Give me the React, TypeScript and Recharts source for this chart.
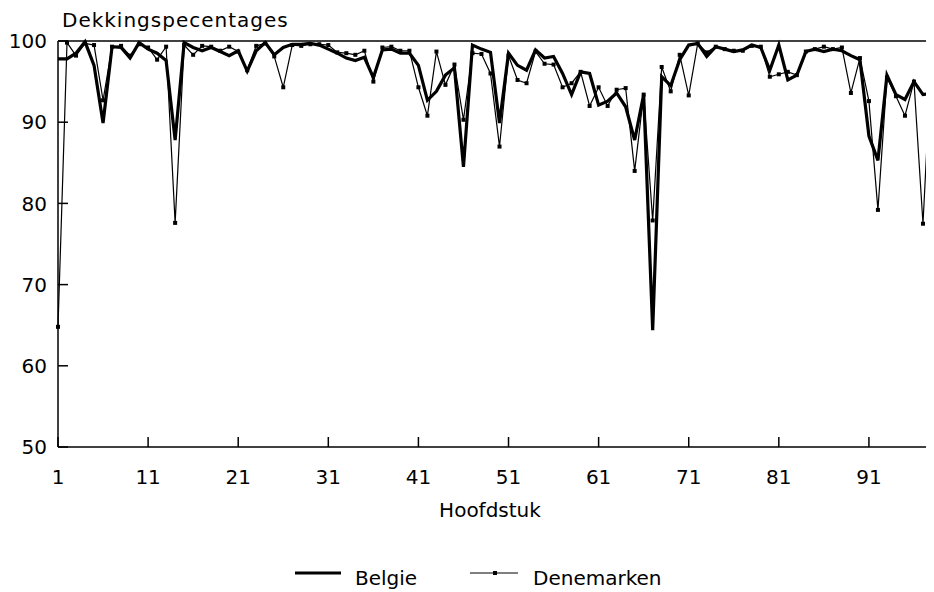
import React from 'react';
import { LineChart, Line, XAxis, YAxis, ReferenceLine, Legend } from 'recharts';

const chapters = [
  1, 2, 3, 4, 5, 6, 7, 8, 9, 10, 11, 12, 13, 14, 15, 16, 17, 18, 19, 20,
  21, 22, 23, 24, 25, 26, 27, 28, 29, 30, 31, 32, 33, 34, 35, 36, 37, 38, 39, 40,
  41, 42, 43, 44, 45, 46, 47, 48, 49, 50, 51, 52, 53, 54, 55, 56, 57, 58, 59, 60,
  61, 62, 63, 64, 65, 66, 67, 68, 69, 70, 71, 72, 73, 74, 75, 76, 77, 78, 79, 80,
  81, 82, 83, 84, 85, 86, 87, 88, 89, 90, 91, 92, 93, 94, 95, 96, 97, 98,
];

const belgie = [
  97.8, 97.8, 98.5, 99.9, 97.0, 89.9, 99.3, 99.2, 97.9, 99.8,
  99.0, 98.5, 97.6, 87.8, 99.8, 99.2, 98.8, 99.2, 98.7, 98.2,
  98.8, 96.3, 98.8, 99.8, 98.3, 99.2, 99.6, 99.6, 99.7, 99.5,
  99.0, 98.5, 97.9, 97.6, 98.0, 95.5, 98.9, 99.0, 98.5, 98.5,
  97.0, 92.7, 93.8, 95.8, 96.7, 84.5, 99.5, 99.0, 98.6, 89.9,
  98.5, 97.0, 96.4, 98.9, 97.9, 98.1, 96.0, 93.4, 96.2, 96.0,
  92.1, 92.6, 93.6, 91.9, 87.8, 93.4, 64.4, 95.6, 94.5, 97.7,
  99.5, 99.7, 98.1, 99.3, 99.0, 98.7, 98.9, 99.5, 99.2, 96.4,
  99.5, 95.2, 95.8, 98.7, 99.0, 98.7, 99.0, 98.8, 98.2, 97.7,
  88.3, 85.3, 95.8, 93.4, 92.8, 95.0, 93.4, 93.6,
];

const denemarken = [
  64.8, 99.8, 98.2, 99.7, 99.5, 92.7, 99.3, 99.4, 98.2, 99.6,
  99.2, 97.7, 99.3, 77.6, 99.5, 98.3, 99.4, 99.3, 98.8, 99.3,
  98.7, 96.4, 99.4, 99.7, 98.1, 94.3, 99.5, 99.4, 99.6, 99.6,
  99.5, 98.6, 98.5, 98.3, 98.8, 95.0, 99.2, 99.3, 98.8, 98.8,
  94.3, 90.8, 98.7, 94.6, 97.1, 90.3, 98.5, 98.4, 96.0, 87.0,
  98.2, 95.2, 94.8, 98.7, 97.2, 97.1, 94.3, 94.8, 96.2, 92.0,
  94.3, 92.0, 94.0, 94.2, 84.0, 93.4, 77.9, 96.8, 93.8, 98.3,
  93.3, 99.7, 98.6, 99.3, 99.0, 98.8, 98.8, 99.4, 99.3, 95.6,
  95.9, 96.2, 95.8, 98.7, 99.0, 99.3, 99.0, 99.2, 93.6, 97.9,
  92.6, 79.2, 95.5, 93.2, 90.8, 95.0, 77.5, 99.5,
];

const xTicks = [1, 11, 21, 31, 41, 51, 61, 71, 81, 91];
const yTicks = [50, 60, 70, 80, 90, 100];

const seriesNames = { belgie: 'Belgie', denemarken: 'Denemarken' };
const yTitle = 'Dekkingspecentages';
const xTitle = 'Hoofdstuk';

const data = chapters.map((c, i) => ({
  hoofdstuk: c,
  belgie: belgie[i],
  denemarken: denemarken[i],
}));

const FONT = '"DejaVu Sans", sans-serif';
const W = 934;
const H = 584;

const SquareDot = (props: any) => {
  const { cx, cy, index } = props;
  if (cx == null || cy == null) return <g key={`d-${index}`} />;
  return <rect key={`d-${index}`} x={cx - 2} y={cy - 2} width={4} height={4} fill="#000" />;
};

const renderLegend = () => (
  <svg width={W} height={32} style={{ display: 'block' }}>
    <line x1={295} x2={341} y1={13} y2={13} stroke="#000" strokeWidth={2.8} />
    <text x={355} y={25} fontFamily={FONT} fontSize={20} fill="#000">
      {seriesNames.belgie}
    </text>
    <line x1={470} x2={518} y1={13} y2={13} stroke="#000" strokeWidth={1.2} />
    <rect x={493} y={11} width={4} height={4} fill="#000" />
    <text x={533} y={25} fontFamily={FONT} fontSize={20} fill="#000">
      {seriesNames.denemarken}
    </text>
  </svg>
);

export default function App() {
  return (
    <div style={{ position: 'relative', width: W, height: H, marginLeft: -8 }}>
      <style>{'html, body { overflow: hidden; }'}</style>
      <LineChart
        width={W}
        height={H}
        data={data}
        margin={{ top: 33, right: 2, left: 8, bottom: 85 }}
      >
        <XAxis
          type="number"
          dataKey="hoofdstuk"
          domain={[1, 98]}
          ticks={xTicks}
          interval={0}
          height={60}
          tickSize={-10}
          tickMargin={33}
          stroke="#000"
          strokeWidth={1.5}
          tick={{ fill: '#000', fontSize: 20, fontFamily: FONT }}
        />
        <YAxis
          type="number"
          domain={[50, 100]}
          ticks={yTicks}
          interval={0}
          width={50}
          tickSize={-10}
          tickMargin={21}
          stroke="#000"
          strokeWidth={1.5}
          tick={{ fill: '#000', fontSize: 20, fontFamily: FONT }}
        />
        <ReferenceLine y={100} stroke="#000" strokeWidth={1.5} />
        <Line
          type="linear"
          dataKey="belgie"
          name={seriesNames.belgie}
          stroke="#000"
          strokeWidth={3.2}
          dot={false}
          isAnimationActive={false}
        />
        <Line
          type="linear"
          dataKey="denemarken"
          name={seriesNames.denemarken}
          stroke="#000"
          strokeWidth={1.2}
          dot={SquareDot}
          isAnimationActive={false}
        />
        <Legend
          layout="horizontal"
          verticalAlign="middle"
          align="center"
          content={renderLegend}
          wrapperStyle={{ position: 'absolute', top: 552, left: 0, width: W, height: 32 }}
        />
      </LineChart>
      <svg
        width={W}
        height={H}
        style={{ position: 'absolute', left: 0, top: 0, pointerEvents: 'none' }}
      >
        <text x={62} y={18.5} fontFamily={FONT} fontSize={20} letterSpacing={1} fill="#000">
          {yTitle}
        </text>
        <text x={490} y={509} textAnchor="middle" fontFamily={FONT} fontSize={20} fill="#000">
          {xTitle}
        </text>
      </svg>
    </div>
  );
}
